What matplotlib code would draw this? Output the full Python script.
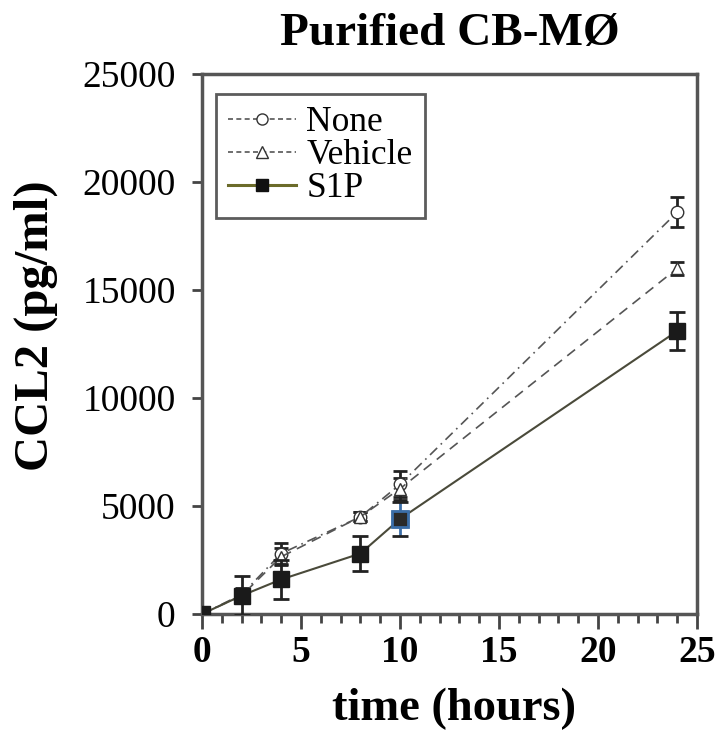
import matplotlib
matplotlib.use("Agg")
import matplotlib.pyplot as plt
from matplotlib.lines import Line2D
from matplotlib.ticker import MultipleLocator

# data
time_none = [0, 2, 4, 8, 10, 24]
ccl2_none = [0, 900, 2800, 4500, 6000, 18600]
err_none = [0, 300, 500, 200, 600, 700]

time_vehicle = [0, 2, 4, 8, 10, 24]
ccl2_vehicle = [0, 850, 2650, 4500, 5800, 16000]
err_vehicle = [0, 300, 400, 200, 500, 300]

time_s1p = [0, 2, 4, 8, 10, 24]
ccl2_s1p = [0, 850, 1600, 2800, 4400, 13100]
err_s1p = [0, 900, 900, 800, 800, 900]

series_labels = ["None", "Vehicle", "S1P"]

plt.rcParams["font.family"] = ["Liberation Serif", "DejaVu Serif"]

fig = plt.figure(figsize=(7.22, 7.37), dpi=100)
ax = fig.add_axes([0.2798, 0.1669, 0.6856, 0.7327])

line_col = "#555555"
none_style = (0, (6, 3, 1, 3))
veh_style = (0, (6, 4))

ax.errorbar(time_none, ccl2_none, yerr=err_none, fmt="o", ls=none_style,
            color=line_col, mfc="white", mec="#333333", ms=9, lw=1.2,
            ecolor="#222222", elinewidth=2, capsize=5, capthick=2, zorder=3)
ax.errorbar(time_vehicle, ccl2_vehicle, yerr=err_vehicle, fmt="^", ls=veh_style,
            color=line_col, mfc="white", mec="#333333", ms=9, lw=1.2,
            ecolor="#222222", elinewidth=2, capsize=5, capthick=2, zorder=3)
s1p = ax.errorbar(time_s1p, ccl2_s1p, yerr=err_s1p, fmt="s", ls="-",
                  color="#4a4a3a", mfc="#1a1a1a", mec="#1a1a1a", ms=12, lw=1.5,
                  ecolor="#222222", elinewidth=2, capsize=6, capthick=2, zorder=4)
# the 10 h S1P error bar is blue in the original
bar_cols = ["#222222"] * len(time_s1p)
bar_cols[time_s1p.index(10)] = "#3b6ea8"
s1p[2][0].set_color(bar_cols)
ax.plot([10], [ccl2_s1p[time_s1p.index(10)]], "s", ms=12, mfc="#2a2a2a",
        mec="#3b6ea8", mew=2, zorder=5)

ax.set_xlim(0, 25)
ax.set_ylim(0, 25000)
ax.xaxis.set_major_locator(MultipleLocator(5))
ax.xaxis.set_minor_locator(MultipleLocator(1))
ax.yaxis.set_major_locator(MultipleLocator(5000))
ax.tick_params(axis="y", which="major", labelsize=27, length=7, width=2,
               direction="out", pad=12, color="#444444")
ax.tick_params(axis="x", which="major", labelsize=27, length=11, width=2,
               direction="out", pad=4, color="#444444")
ax.tick_params(axis="x", which="minor", length=6.5, width=2, direction="out",
               color="#444444")
for lab in ax.get_xticklabels():
    lab.set_fontweight("bold")
for spine in ax.spines.values():
    spine.set_linewidth(2.5)
    spine.set_color("#555555")

ax.set_xlabel("time (hours)", fontsize=33.5, fontweight="bold")
ax.xaxis.set_label_coords(0.51, -0.137)
ax.set_ylabel("CCL2 (pg/ml)", fontsize=35, fontweight="bold")
ax.yaxis.set_label_coords(-0.291, 0.533)
ax.set_title("Purified CB-MØ", fontsize=34, fontweight="bold", pad=21)

handles = [
    Line2D([], [], ls=(0, (3, 2)), color=line_col, lw=1.2, marker="o", ms=8,
           mfc="white", mec="#333333"),
    Line2D([], [], ls=(0, (3, 2)), color=line_col, lw=1.2, marker="^", ms=8,
           mfc="white", mec="#333333"),
    Line2D([], [], ls="-", color="#6b6b2a", lw=2.2, marker="s", ms=9,
           mfc="#111111", mec="#111111"),
]
leg = ax.legend(handles, series_labels, loc="upper left",
                bbox_to_anchor=(14 / 495, 1 - 20 / 540), borderaxespad=0,
                fontsize=25.5, frameon=True, fancybox=False, handlelength=1.9,
                handletextpad=0.3, borderpad=0.35, labelspacing=0.0)
leg.get_frame().set_edgecolor("#333333")
leg.get_frame().set_linewidth(2)

fig.savefig("out.png", dpi=100)
